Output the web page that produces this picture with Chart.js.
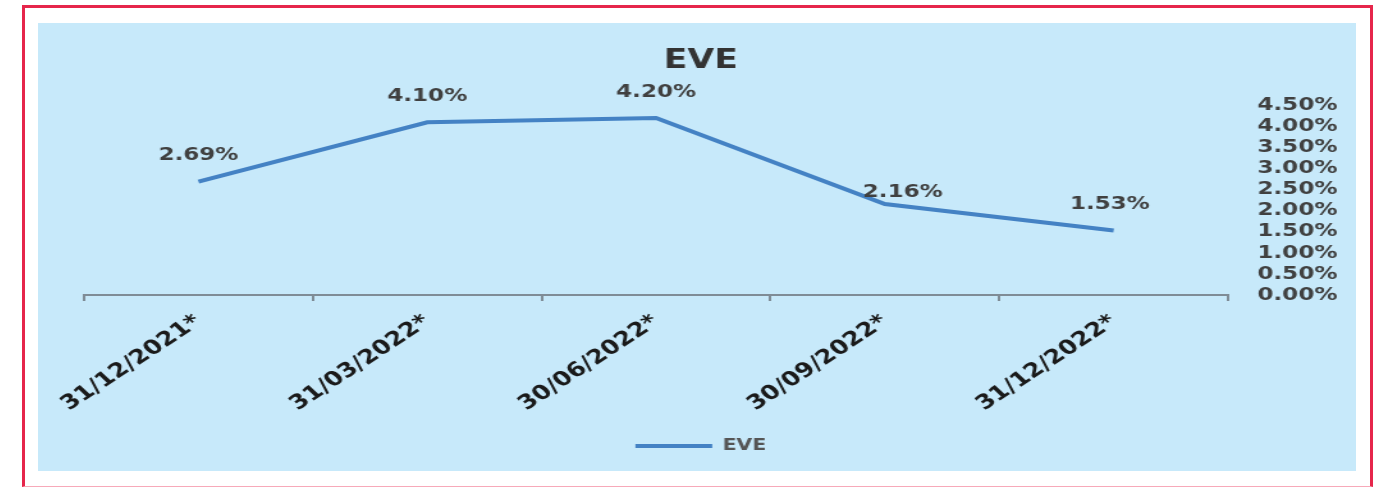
<!DOCTYPE html>
<html>
<head>
<meta charset="utf-8">
<script src="https://cdn.jsdelivr.net/npm/chart.js@4.4.4/dist/chart.umd.min.js"></script>
<style>
  html, body { margin: 0; padding: 0; background: #fff; }
  #frame {
    position: absolute; left: 22px; top: 5px; width: 1351px; height: 482px;
    box-sizing: border-box;
    border: 3px solid #e6264b; border-bottom: 1px solid #f7a9b9;
  }
  #panel {
    position: absolute; left: 38px; top: 23px; width: 1318px; height: 448px;
    background: #c7e9fa; overflow: hidden;
  }
  #wrap {
    position: absolute; left: 0; top: 0; width: 1030px; height: 448px;
    transform: scaleX(1.2796); transform-origin: 0 0;
  }
</style>
</head>
<body>
<div id="frame"></div>
<div id="panel"><div id="wrap"><canvas id="c" width="1030" height="448"></canvas></div></div>
<script>
const categories = ['31/12/2021*', '31/03/2022*', '30/06/2022*', '30/09/2022*', '31/12/2022*'];
const eveValues = [2.69, 4.10, 4.20, 2.16, 1.53];
const yTicks = [0, 0.5, 1, 1.5, 2, 2.5, 3, 3.5, 4, 4.5];

const FONT = 'DejaVu Sans';
const lineColor = '#4482c4';
const axisColor = '#7f8c96';

// label offsets (dx, dy) from each point
const labelShift = [[0, -26], [0, -26], [0, -26], [14, -12], [-3, -26]];

const pointLabels = {
  id: 'pointLabels',
  afterDatasetsDraw(chart) {
    const ctx = chart.ctx;
    const meta = chart.getDatasetMeta(0);
    ctx.save();
    ctx.font = `bold 18px "${FONT}"`;
    ctx.fillStyle = '#404040';
    ctx.textAlign = 'center';
    ctx.textBaseline = 'middle';
    meta.data.forEach((pt, i) => {
      const [dx, dy] = labelShift[i];
      ctx.fillText(eveValues[i].toFixed(2) + '%', pt.x + dx, pt.y + dy);
    });
    ctx.restore();
  }
};

new Chart(document.getElementById('c'), {
  type: 'line',
  data: {
    labels: categories,
    datasets: [{
      label: 'EVE',
      data: eveValues,
      borderColor: lineColor,
      backgroundColor: lineColor,
      borderWidth: 4,
      pointRadius: 0,
      tension: 0,
    }]
  },
  options: {
    responsive: false,
    animation: false,
    layout: { padding: { left: 6, right: 0, top: 0, bottom: 7 } },
    plugins: {
      title: {
        display: true,
        text: 'EVE',
        color: '#333333',
        font: { family: FONT, size: 27, weight: 'bold' },
        padding: { top: 22, bottom: 28 }
      },
      legend: {
        position: 'bottom',
        labels: {
          usePointStyle: true,
          pointStyle: 'line',
          pointStyleWidth: 60,
          color: '#555555',
          font: { family: FONT, size: 16, weight: 'bold' },
          padding: 8
        }
      },
      tooltip: { enabled: false }
    },
    scales: {
      x: {
        offset: true,
        grid: {
          display: true, drawOnChartArea: false, drawTicks: true,
          tickLength: 6, color: axisColor, lineWidth: 2, offset: true
        },
        border: { display: true, color: axisColor, width: 2 },
        ticks: {
          minRotation: 40, maxRotation: 40, padding: 9,
          color: '#1a1a1a',
          font: { family: FONT, size: 20, weight: 'bold' }
        },
        afterFit(scale) {
          scale.height = 135;
          scale.paddingLeft = 36;
          scale.paddingRight = 0;
        }
      },
      y: {
        position: 'right',
        min: 0, max: 4.5,
        grid: { display: false, drawTicks: false },
        border: { display: false },
        afterBuildTicks(scale) { scale.ticks = yTicks.map(v => ({ value: v })); },
        ticks: {
          autoSkip: false,
          padding: 23,
          color: '#404040',
          font: { family: FONT, size: 18, weight: 'bold' },
          callback: v => v.toFixed(2) + '%'
        },
        afterFit(scale) { scale.width = 100; }
      }
    }
  },
  plugins: [pointLabels]
});
</script>
</body>
</html>
